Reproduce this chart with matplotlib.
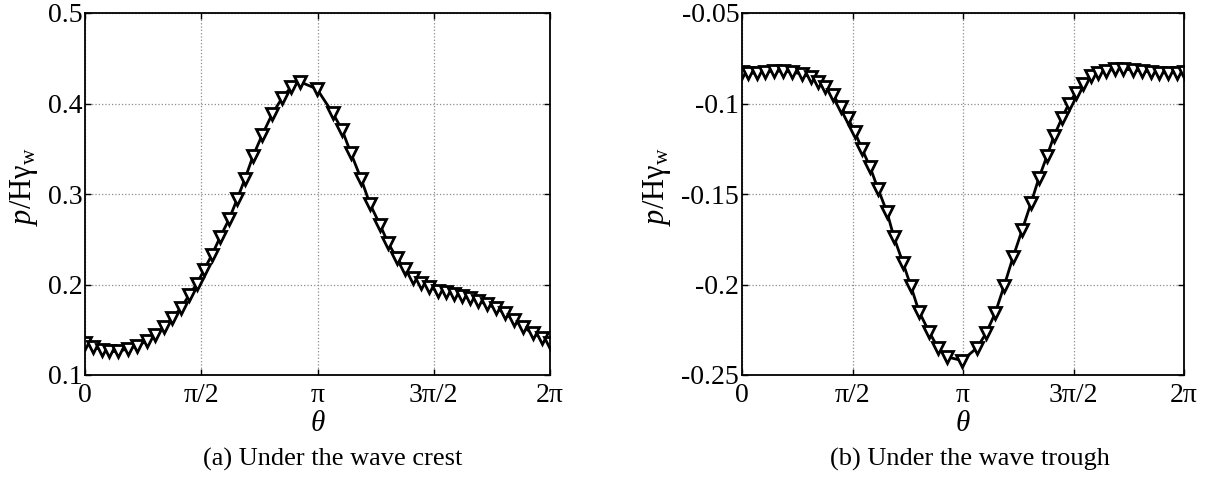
import numpy as np
import matplotlib
matplotlib.use("Agg")
import matplotlib.pyplot as plt

plt.rcParams['font.family'] = ['Liberation Serif', 'DejaVu Serif']
plt.rcParams['mathtext.fontset'] = 'custom'
plt.rcParams['mathtext.rm'] = 'Liberation Serif'
plt.rcParams['mathtext.it'] = 'Liberation Serif:italic'

# (a) under the wave crest: theta in degrees, p/(H*gamma_w)
theta_crest = [0, 6.2, 13.2, 18.6, 25.5, 33.3, 40.3, 48.0, 54.2, 61.2, 67.4, 74.3,
               80.5, 86.7, 92.1, 98.3, 104.5, 111.5, 117.7, 123.9, 130.1, 137.1,
               144.8, 152.5, 159.5, 166.5, 179.6, 192.0, 199.0, 205.9, 213.7,
               220.6, 228.4, 234.6, 241.5, 247.7, 253.9, 260.1, 266.3, 273.3,
               279.5, 285.7, 291.9, 298.1, 304.3, 311.2, 318.2, 325.2, 332.1,
               339.1, 346.8, 353.8, 360]
p_crest = [0.135, 0.131, 0.128, 0.126, 0.126, 0.129, 0.132, 0.138, 0.144, 0.153,
           0.163, 0.174, 0.188, 0.201, 0.216, 0.233, 0.252, 0.272, 0.294, 0.317,
           0.342, 0.365, 0.388, 0.406, 0.418, 0.424, 0.416, 0.389, 0.371, 0.345,
           0.317, 0.289, 0.266, 0.246, 0.229, 0.217, 0.207, 0.202, 0.197, 0.193,
           0.192, 0.190, 0.187, 0.185, 0.182, 0.178, 0.174, 0.168, 0.161, 0.153,
           0.146, 0.141, 0.135]

# (b) under the wave trough
theta_trough = [0, 4.9, 12.2, 18.7, 26.1, 33.4, 40.7, 48.9, 56.2, 61.9, 67.6, 74.1,
                80.6, 86.3, 92.0, 97.7, 104.2, 110.7, 118.1, 123.8, 131.1, 137.6,
                144.2, 152.3, 159.6, 167.0, 179.2, 191.4, 198.7, 206.1, 213.4,
                220.7, 228.1, 235.4, 241.9, 248.4, 254.1, 260.6, 266.3, 272.0,
                277.7, 284.3, 290.0, 296.5, 303.8, 310.3, 318.5, 325.8, 333.1,
                339.6, 347.0, 354.3, 360]
p_trough = [-0.0826, -0.0832, -0.0832, -0.0826, -0.0821, -0.0821, -0.0826, -0.0837,
            -0.0854, -0.0881, -0.0909, -0.0953, -0.102, -0.108, -0.116, -0.125,
            -0.135, -0.147, -0.160, -0.174, -0.188, -0.201, -0.215, -0.226, -0.235,
            -0.240, -0.242, -0.235, -0.227, -0.216, -0.201, -0.185, -0.170, -0.155,
            -0.141, -0.129, -0.118, -0.108, -0.100, -0.094, -0.089, -0.085, -0.083,
            -0.082, -0.081, -0.081, -0.0815, -0.082, -0.0826, -0.083, -0.083, -0.083,
            -0.0826]

xticks = [0, 90, 180, 270, 360]
xticklabels = ['0', 'π/2', 'π', '3π/2', '2π']
yticks_a = [0.1, 0.2, 0.3, 0.4, 0.5]
yticklabels_a = ['0.1', '0.2', '0.3', '0.4', '0.5']
yticks_b = [-0.25, -0.2, -0.15, -0.1, -0.05]
yticklabels_b = ['-0.25', '-0.2', '-0.15', '-0.1', '-0.05']

fig = plt.figure(figsize=(12.07, 4.83), dpi=100)
ax1 = fig.add_axes([85/1207, 108/483, 465/1207, 362/483])
ax2 = fig.add_axes([742/1207, 108/483, 442/1207, 362/483])

panels = [(ax1, theta_crest, p_crest, yticks_a, yticklabels_a, -0.097),
          (ax2, theta_trough, p_trough, yticks_b, yticklabels_b, -0.156)]

for ax, th, p, yt, ytl, lx in panels:
    ax.plot(th, p, '-', color='k', linewidth=2.0, marker='v', markersize=8,
            markerfacecolor='white', markeredgecolor='k', markeredgewidth=2.0)
    ax.set_xlim(0, 360)
    ax.set_ylim(yt[0], yt[-1])
    ax.set_xticks(xticks)
    ax.set_xticklabels(xticklabels)
    ax.set_yticks(yt)
    ax.set_yticklabels(ytl)
    ax.tick_params(direction='in', top=True, right=True, length=4, width=1,
                   labelsize=20)
    ax.tick_params(axis='x', pad=6)
    ax.tick_params(axis='y', pad=2)
    ax.grid(True, linestyle=':', color='0.55', linewidth=0.9)
    for s in ax.spines.values():
        s.set_linewidth(1.3)
    ax.set_xlabel(r'$\theta$', fontsize=21)
    ax.xaxis.set_label_coords(0.5, -0.099)
    ax.set_ylabel(r'$p$/H$\mathrm{\gamma}_{\mathrm{w}}$', fontsize=22)
    ax.yaxis.set_label_coords(lx, 0.519)

fig.text(333/1207, 0.048, '(a) Under the wave crest', ha='center', va='center',
         fontsize=19)
fig.text(970/1207, 0.048, '(b) Under the wave trough', ha='center', va='center',
         fontsize=19)

fig.savefig('out.png', dpi=100)
